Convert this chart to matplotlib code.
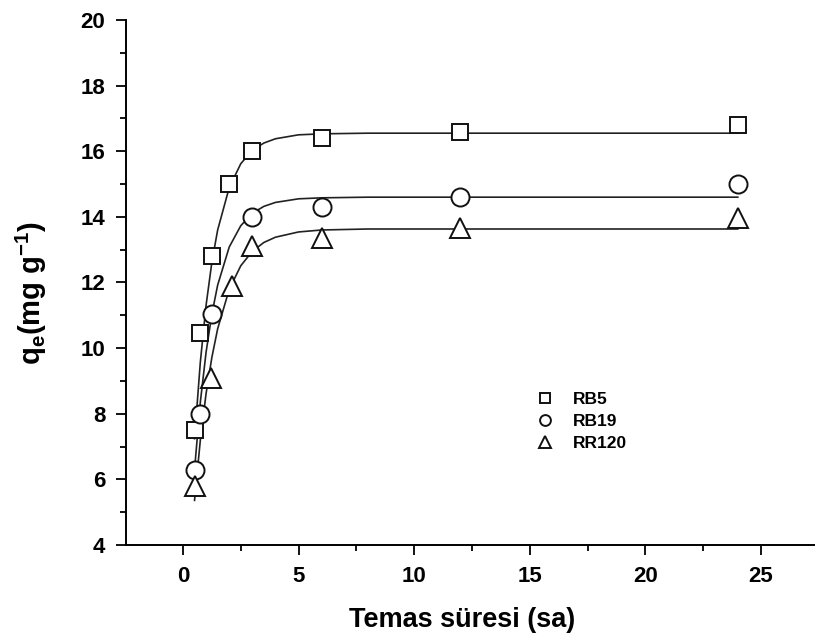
import matplotlib.pyplot as plt
from matplotlib.ticker import MultipleLocator

plt.rcParams['font.family'] = ['Liberation Sans', 'DejaVu Sans']
plt.rcParams['font.weight'] = 'bold'

# Ölçülen değerler
t_rb5 = [0.5, 0.75, 1.25, 2, 3, 6, 12, 24]
q_rb5 = [7.5, 10.45, 12.8, 15.0, 16.0, 16.4, 16.6, 16.8]
t_rb19 = [0.5, 0.75, 1.25, 3, 6, 12, 24]
q_rb19 = [6.3, 8.0, 11.05, 14.0, 14.3, 14.6, 15.0]
t_rr120 = [0.5, 1.2, 2.1, 3, 6, 12, 24]
q_rr120 = [5.8, 9.1, 11.9, 13.1, 13.35, 13.65, 13.95]

# Model eğrileri
t_fit = [0.5, 0.75, 1, 1.25, 1.5, 2, 2.5, 3, 3.5, 4, 5, 6, 8, 12, 24]
fit_rb5 = [7.24, 9.57, 11.31, 12.62, 13.60, 14.89, 15.62, 16.03, 16.25,
           16.38, 16.50, 16.53, 16.55, 16.55, 16.55]
fit_rb19 = [6.30, 8.35, 9.88, 11.04, 11.92, 13.08, 13.73, 14.11, 14.32,
            14.44, 14.55, 14.58, 14.60, 14.60, 14.60]
fit_rr120 = [5.36, 7.19, 8.62, 9.72, 10.59, 11.79, 12.51, 12.95, 13.22,
             13.38, 13.54, 13.60, 13.63, 13.63, 13.63]

fig = plt.figure(figsize=(8.15, 6.44), dpi=100)
ax = fig.add_axes([0.1546, 0.1537, 0.8454, 0.8153])

for fit in (fit_rb5, fit_rb19, fit_rr120):
    ax.plot(t_fit, fit, color='#222222', lw=1.2, zorder=2)

mk = dict(mfc='white', mec='#111111', mew=1.4, ls='none', zorder=3)
ax.plot(t_rb5, q_rb5, marker='s', ms=11, label='RB5', **mk)
ax.plot(t_rb19, q_rb19, marker='o', ms=13, label='RB19', **mk)
ax.plot(t_rr120, q_rr120, marker='^', ms=15, label='RR120', **mk)

ax.set_xlim(-2.465, 27.34)
ax.set_ylim(4, 20)
ax.xaxis.set_major_locator(MultipleLocator(5))
ax.xaxis.set_minor_locator(MultipleLocator(2.5))
ax.yaxis.set_major_locator(MultipleLocator(2))
ax.yaxis.set_minor_locator(MultipleLocator(1))
ax.tick_params(which='major', length=7, width=1.3, direction='out', labelsize=16, pad=8)
ax.tick_params(which='minor', length=4, width=1.3, direction='out')
for s in ('top', 'right'):
    ax.spines[s].set_visible(False)
for s in ('left', 'bottom'):
    ax.spines[s].set_linewidth(1.4)

ax.set_xlabel('Temas süresi (sa)', fontsize=19.5, fontweight='bold')
ax.xaxis.set_label_coords(0.488, -0.118)
ax.set_ylabel(r'q$_\mathregular{e}$(mg g$^\mathregular{-1}$)', fontsize=21,
              fontweight='bold')
ax.yaxis.set_label_coords(-0.112, 0.48)

leg = ax.legend(loc='upper left', bbox_to_anchor=(0.57, 0.322), frameon=False,
                fontsize=12.5, markerscale=0.6, handlelength=1.2, labelspacing=0.4,
                handletextpad=1.0)

fig.savefig('out.png', dpi=100)
